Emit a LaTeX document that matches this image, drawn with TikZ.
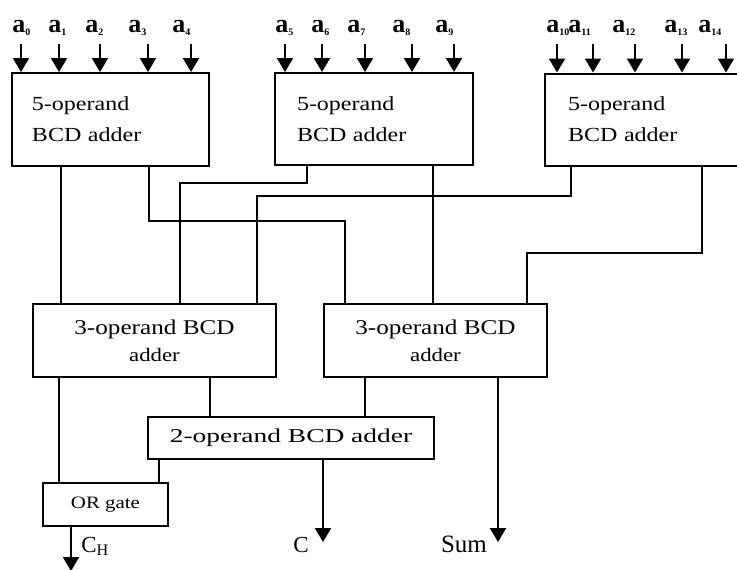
\documentclass[tikz,border=0pt]{standalone}
\usepackage{fontspec}
\setmainfont{Liberation Serif}
\newfontfamily\widefont[FakeStretch=1.2]{Liberation Serif}
\newfontfamily\widerfont[FakeStretch=1.4]{Liberation Serif}
\usetikzlibrary{arrows.meta}
\tikzset{
	blk/.style={draw, line width=1pt, inner sep=0pt},
	wire/.style={line width=1pt},
	sig/.style={line width=1pt, -{Triangle[width=8pt,length=7pt]}},
	inp/.style={font=\fontsize{13}{13}\selectfont\bfseries, anchor=base west, inner sep=0pt},
	outlbl/.style={anchor=base, inner sep=0pt},
}
\begin{document}
\begin{tikzpicture}[x=0.5pt, y=-0.5pt]
			\useasboundingbox (0,0) rectangle (737,569);
			% 5-operand adders
			\node[blk, text width=78.5pt, inner xsep=10pt, minimum height=46.5pt, align=left, font=\widefont\fontsize{10}{15.5}\selectfont] (top1) at (110.5,119.5) {5-operand\\BCD adder};
			\node[blk, text width=77pt, inner xsep=11pt, minimum height=46pt, align=left, font=\widefont\fontsize{10}{15.5}\selectfont] (top2) at (374,119) {5-operand\\BCD adder};
			\node[blk, text width=77pt, inner xsep=11.5pt, minimum height=46pt, align=left, font=\widefont\fontsize{10}{15.5}\selectfont] (top3) at (645,119.5) {5-operand\\BCD adder};
			% inputs
			\node[inp] (a0) at (12,32) {a\textsubscript{\tiny 0}}; \draw[sig, shorten <=4pt] (21,0 |- a0.south) -- (21,0 |- top1.north);
			\node[inp] (a1) at (48,32) {a\textsubscript{\tiny 1}}; \draw[sig, shorten <=4pt] (59,0 |- a1.south) -- (59,0 |- top1.north);
			\node[inp] (a2) at (85,32) {a\textsubscript{\tiny 2}}; \draw[sig, shorten <=4pt] (100,0 |- a2.south) -- (100,0 |- top1.north);
			\node[inp] (a3) at (128,32) {a\textsubscript{\tiny 3}}; \draw[sig, shorten <=4pt] (148,0 |- a3.south) -- (148,0 |- top1.north);
			\node[inp] (a4) at (172,32) {a\textsubscript{\tiny 4}}; \draw[sig, shorten <=4pt] (191,0 |- a4.south) -- (191,0 |- top1.north);
			\node[inp] (a5) at (275,32) {a\textsubscript{\tiny 5}}; \draw[sig, shorten <=4pt] (285,0 |- a5.south) -- (285,0 |- top2.north);
			\node[inp] (a6) at (311,32) {a\textsubscript{\tiny 6}}; \draw[sig, shorten <=4pt] (322,0 |- a6.south) -- (322,0 |- top2.north);
			\node[inp] (a7) at (347,32) {a\textsubscript{\tiny 7}}; \draw[sig, shorten <=4pt] (365,0 |- a7.south) -- (365,0 |- top2.north);
			\node[inp] (a8) at (392,32) {a\textsubscript{\tiny 8}}; \draw[sig, shorten <=4pt] (412,0 |- a8.south) -- (412,0 |- top2.north);
			\node[inp] (a9) at (435,32) {a\textsubscript{\tiny 9}}; \draw[sig, shorten <=4pt] (454,0 |- a9.south) -- (454,0 |- top2.north);
			\node[inp] (a10) at (546,32) {a\textsubscript{\tiny 10}}; \draw[sig, shorten <=4pt] (557,0 |- a10.south) -- (557,0 |- top3.north);
			\node[inp] (a11) at (568,32) {a\textsubscript{\tiny 11}}; \draw[sig, shorten <=4pt] (593,0 |- a11.south) -- (593,0 |- top3.north);
			\node[inp] (a12) at (612,32) {a\textsubscript{\tiny 12}}; \draw[sig, shorten <=4pt] (635,0 |- a12.south) -- (635,0 |- top3.north);
			\node[inp] (a13) at (664,32) {a\textsubscript{\tiny 13}}; \draw[sig, shorten <=4pt] (682,0 |- a13.south) -- (682,0 |- top3.north);
			\node[inp] (a14) at (698,32) {a\textsubscript{\tiny 14}}; \draw[sig, shorten <=4pt] (726,0 |- a14.south) -- (726,0 |- top3.north);
			% 3-operand adders
			\node[blk, minimum width=121.5pt, minimum height=36.5pt, align=center, font=\widefont\fontsize{10.5}{13.5}\selectfont] (mid1) at (154.5,340.5) {3-operand BCD\\{\fontsize{9.5}{13.5}\selectfont adder}};
			\node[blk, minimum width=111.5pt, minimum height=36.5pt, align=center, font=\widefont\fontsize{10.5}{13.5}\selectfont] (mid2) at (435.5,340.5) {3-operand BCD\\{\fontsize{9.5}{13.5}\selectfont adder}};
			% last stage
			\node[blk, minimum width=143pt, minimum height=21pt, font=\widerfont\fontsize{9.8}{11}\selectfont] (two) at (291,438) {2-operand BCD adder};
			\node[blk, minimum width=62.5pt, minimum height=21.5pt, font=\widefont\fontsize{8.7}{10}\selectfont] (orgate) at (105.5,504.5) {OR gate\hspace{8pt}};
			% wiring
			\draw[wire] (61,0 |- top1.south) -- (61,0 |- mid1.north);
			\draw[wire] (149,0 |- top1.south) -- (149,221) -- (345,221) -- (345,0 |- mid2.north);
			\draw[wire] (307,0 |- top2.south) -- (307,183) -- (180,183) -- (180,0 |- mid1.north);
			\draw[wire] (433,0 |- top2.south) -- (433,0 |- mid2.north);
			\draw[wire] (571,0 |- top3.south) -- (571,196) -- (257,196) -- (257,0 |- mid1.north);
			\draw[wire] (702,0 |- top3.south) -- (702,253) -- (527,253) -- (527,0 |- mid2.north);
			\draw[wire] (59,0 |- mid1.south) -- (59,0 |- orgate.north);
			\draw[wire] (210,0 |- mid1.south) -- (210,0 |- two.north);
			\draw[wire] (365,0 |- mid2.south) -- (365,0 |- two.north);
			\draw[wire] (159,0 |- two.south) -- (159,0 |- orgate.north);
			% outputs
			\coordinate (sumend) at (498,542);
			\coordinate (cend) at (323,542);
			\coordinate (chend) at (71,571);
			\draw[sig] (sumend |- mid2.south) -- (sumend);
			\draw[sig] (cend |- two.south) -- (cend);
			\draw[sig] (chend |- orgate.south) -- (chend);
			\node[outlbl, font=\fontsize{12.5}{13}\selectfont] (sum) at (464,552) {Sum};
			\node[outlbl, font=\fontsize{11.5}{13}\selectfont] (c) at (301,552) {C};
			\node[outlbl, anchor=base west, font=\fontsize{11.5}{13}\selectfont] (ch) at (81,552) {C\textsubscript{H}};
		\end{tikzpicture}
\end{document}
